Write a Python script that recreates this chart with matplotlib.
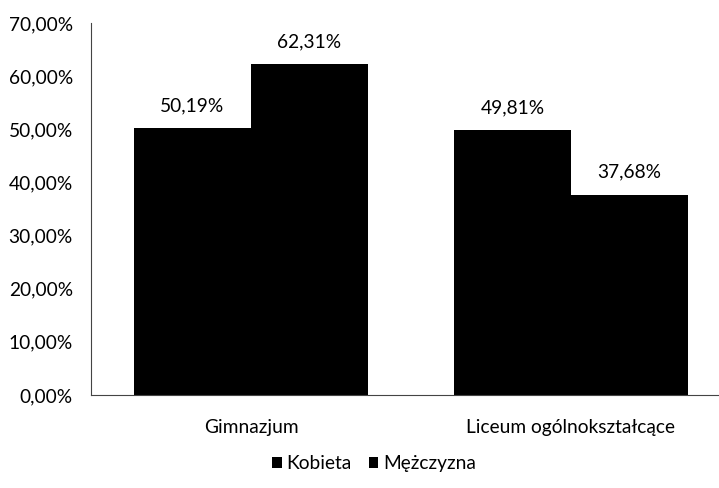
import numpy as np
import matplotlib.pyplot as plt
from matplotlib.ticker import FuncFormatter

categories = ['Gimnazjum', 'Liceum ogólnokształcące']
series = ['Kobieta', 'Mężczyzna']
kobieta = [50.19, 49.81]
mezczyzna = [62.31, 37.68]
yticks = [0, 10, 20, 30, 40, 50, 60, 70]

plt.rcParams['font.family'] = ['Lato', 'DejaVu Sans']
fs = 13.8

fig = plt.figure(figsize=(7.19, 4.88), dpi=100)
ax = fig.add_axes([91 / 719, 93 / 488, 640 / 719, 372 / 488])

x = np.arange(len(categories))
w = 0.366
b1 = ax.bar(x - w / 2, kobieta, w, color='black', label=series[0])
b2 = ax.bar(x + w / 2, mezczyzna, w, color='black', label=series[1])

for bars, vals in [(b1, kobieta), (b2, mezczyzna)]:
  for rect, v in zip(bars, vals):
    ax.annotate(f'{v:.2f}%'.replace('.', ','),
                (rect.get_x() + rect.get_width() / 2, v),
                xytext=(0, 10), textcoords='offset points',
                ha='center', va='bottom', fontsize=fs)

ax.set_xlim(-0.5, 1.5)
ax.set_ylim(0, 70)
ax.set_yticks(yticks)
ax.yaxis.set_major_formatter(FuncFormatter(lambda v, p: f'{v:.2f}%'.replace('.', ',')))
ax.set_xticks(x)
ax.set_xticklabels(categories)
ax.tick_params(axis='y', length=0, pad=13, labelsize=fs)
ax.tick_params(axis='x', length=0, pad=17, labelsize=fs)

for s in ['top', 'right']:
  ax.spines[s].set_visible(False)
for s in ['left', 'bottom']:
  ax.spines[s].set_color('#444444')
  ax.spines[s].set_linewidth(0.8)

fig.legend(handles=[b1, b2], labels=series, loc='center', bbox_to_anchor=(374 / 719, 0.05),
           ncol=2, frameon=False, fontsize=fs, handlelength=0.5, handleheight=0.5,
           handletextpad=0.25, columnspacing=0.9)

fig.savefig('out.png', dpi=100)
